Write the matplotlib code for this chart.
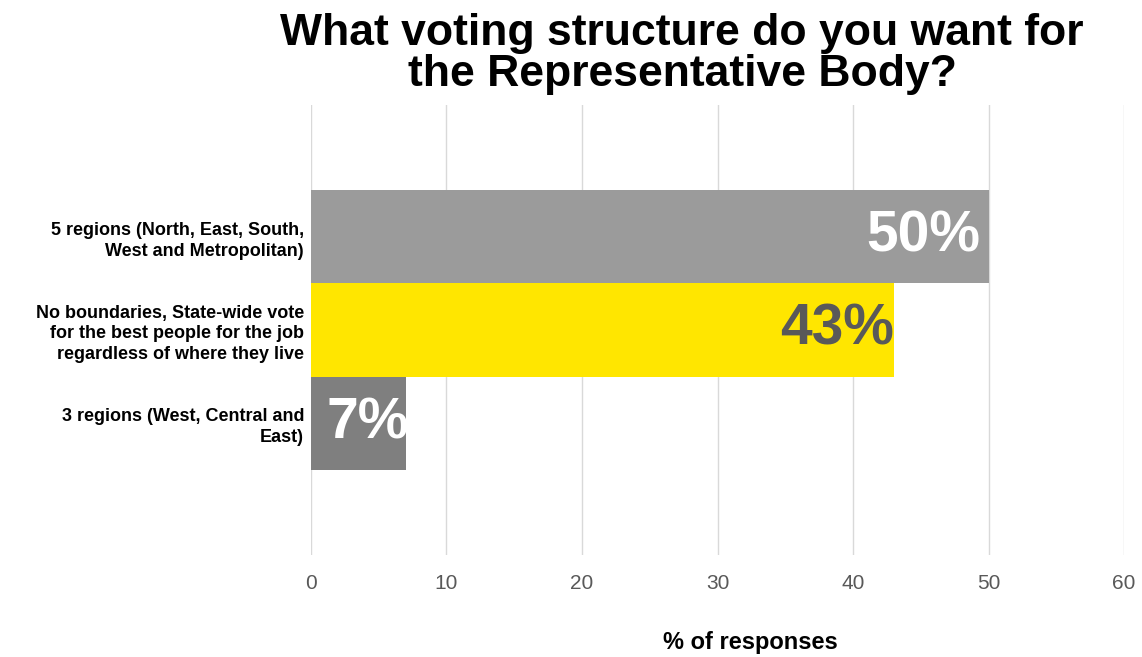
import matplotlib
matplotlib.use("Agg")
import matplotlib.pyplot as plt

categories = [
    "5 regions (North, East, South,\nWest and Metropolitan)",
    "No boundaries, State-wide vote\nfor the best people for the job\nregardless of where they live",
    "3 regions (West, Central and\nEast)",
]
values = [50, 43, 7]
labels = ["50%", "43%", "7%"]
bar_colors = ["#9B9B9B", "#FFE600", "#7F7F7F"]
label_colors = ["white", "#595959", "white"]
xticks = [0, 10, 20, 30, 40, 50, 60]

regular = ["Liberation Sans", "DejaVu Sans"]

fig = plt.figure(figsize=(11.42, 6.57), dpi=100)
ax = fig.add_axes([0.2723, 0.1553, 0.712, 0.6849])

ypos = list(range(len(categories)))
bars = ax.barh(ypos, values, height=1.0, color=bar_colors, zorder=2)

ax.set_xlim(0, 60)
ax.set_ylim(len(categories) - 1 + 1.41, -1.41)
ax.set_xticks(xticks)
ax.set_xticklabels([str(t) for t in xticks], family=regular, fontsize=15, color="#595959")
ax.set_yticks(ypos)
ax.set_yticklabels(categories, family=regular, fontsize=13, fontweight="bold",
                   linespacing=1.3)
ax.tick_params(axis="x", length=0, pad=14)
ax.tick_params(axis="y", length=0, pad=5)
ax.grid(axis="x", color="#D9D9D9", linewidth=1, zorder=0)
for s in ax.spines.values():
    s.set_visible(False)

offsets = [-0.6, 0.05, 0.25]
for bar, v, lab, c, off in zip(bars, values, labels, label_colors, offsets):
    t = ax.text(v + off, bar.get_y() + bar.get_height() / 2, lab, ha="right", va="center",
                fontsize=41, fontweight="bold", color=c, family=regular, zorder=3)
    t.set_clip_path(bar)

fig.text(750 / 1142, 1 - 643 / 657, "% of responses", ha="center", va="center",
         family=regular, fontsize=17, fontweight="bold", color="black")

fig.text(682 / 1142, 1 - 54 / 657,
         "What voting structure do you want for\nthe Representative Body?",
         ha="center", va="center", family=regular, fontsize=32, fontweight="bold",
         linespacing=0.98)

fig.savefig("out.png", dpi=100, facecolor="white")
